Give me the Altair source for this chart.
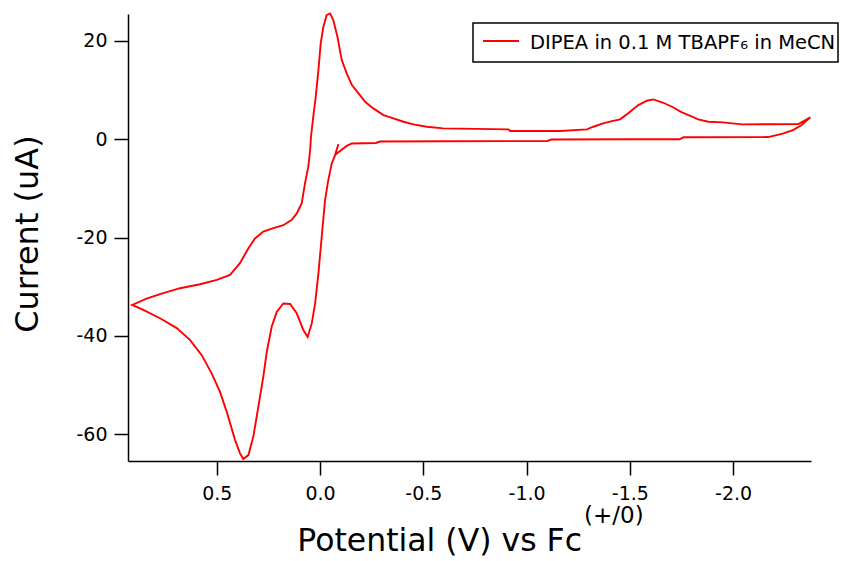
import altair as alt
import pandas as pd

# Cyclic voltammogram trace (potential in V vs Fc+/0, current in uA), in scan order
potential = [
    -0.089, -0.073, -0.129, -0.154, -0.270, -0.290, -0.600, -1.100, -1.120, -1.500, -1.740, -1.760,
    -2.170, -2.240, -2.290, -2.330, -2.374,
    -2.316, -2.043, -1.951, -1.880, -1.831, -1.801, -1.752, -1.704, -1.662, -1.613, -1.583,
    -1.541, -1.492, -1.453, -1.413, -1.371, -1.323, -1.292, -1.163, -0.921, -0.912, -0.596,
    -0.517, -0.452, -0.404, -0.355, -0.307, -0.258, -0.218, -0.186, -0.154, -0.129, -0.105,
    -0.084, -0.064, -0.048, -0.032, -0.016, -0.003, 0.008, 0.021, 0.032, 0.044, 0.048,
    0.057, 0.073, 0.089, 0.113, 0.137, 0.178, 0.226, 0.275, 0.315, 0.347, 0.388, 0.436,
    0.500, 0.581, 0.678, 0.775, 0.840, 0.910,
    0.856, 0.775, 0.694, 0.630, 0.573, 0.525, 0.485, 0.452, 0.412, 0.388, 0.372, 0.347,
    0.323, 0.299, 0.275, 0.258, 0.234, 0.210, 0.178, 0.145, 0.113, 0.081, 0.060, 0.040,
    0.024, 0.008, -0.008, -0.024, -0.040, -0.057, -0.073,
]
current = [
    -1.0, -3.2, -1.4, -0.9, -0.8, -0.5, -0.45, -0.4, -0.1, -0.05, -0.05, 0.35,
    0.4, 1.1, 1.8, 2.8, 4.4,
    3.05, 2.98, 3.39, 3.51, 4.00, 4.53, 5.42, 6.56, 7.37, 8.06, 7.78,
    6.90, 5.22, 4.00, 3.65, 3.19, 2.50, 1.97, 1.62, 1.62, 1.97, 2.17,
    2.50, 2.98, 3.51, 4.20, 4.87, 6.23, 7.57, 9.28, 10.96, 13.34, 16.04,
    20.77, 24.16, 25.52, 25.18, 22.80, 19.43, 14.01, 8.59, 4.87, 0.47, -2.23,
    -5.62, -9.0, -13.1, -15.1, -16.4, -17.5, -18.1, -18.8, -20.2, -22.2, -25.2, -27.6,
    -28.6, -29.5, -30.3, -31.5, -32.4, -33.7,
    -34.7, -36.4, -38.4, -40.8, -43.9, -47.6, -51.3, -55.4, -61.1, -63.8, -65.0, -64.2,
    -60.4, -54.4, -48.3, -43.2, -38.1, -35.1, -33.4, -33.5, -35.4, -38.8, -40.2, -37.4,
    -33.4, -27.3, -19.8, -12.4, -8.3, -4.9, -3.25,
]
x_ticks = [0.5, 0.0, -0.5, -1.0, -1.5, -2.0]
y_ticks = [20, 0, -20, -40, -60]
series_label = ["DIPEA in 0.1 M TBAPF\u2086 in MeCN"]
x_title = ["Potential (V) vs Fc"]
x_title_sup = ["(+/0)"]
y_title = ["Current (uA)"]

df = pd.DataFrame({"E": potential, "I": current, "order": list(range(len(potential)))})

FONT = "DejaVu Sans"
W, H = 683, 447

line = alt.Chart(df).mark_line(color="#ff0000", strokeWidth=1.9, clip=False).encode(
    x=alt.X("E:Q",
            scale=alt.Scale(domain=[-2.377, 0.93], reverse=True, nice=False, zero=False),
            axis=alt.Axis(values=x_ticks, title=None, grid=False,
                          labelExpr="replace(format(datum.value, '.1f'), '\u2212', '-')",
                          tickSize=14, tickWidth=1.5, tickColor="black",
                          domainColor="black", domainWidth=1.5,
                          labelFont=FONT, labelFontSize=19, labelColor="black",
                          labelPadding=9)),
    y=alt.Y("I:Q",
            scale=alt.Scale(domain=[-65.4, 25.4], nice=False, zero=False),
            axis=alt.Axis(values=y_ticks, title=None, grid=False,
                          labelExpr="replace(format(datum.value, 'd'), '\u2212', '-')",
                          tickSize=14, tickWidth=1.5, tickColor="black",
                          domainColor="black", domainWidth=1.5,
                          labelFont=FONT, labelFontSize=19, labelColor="black",
                          labelPadding=7)),
    order="order:Q",
)

# Legend box
leg_df = pd.DataFrame({"label": series_label})
leg_box = alt.Chart(leg_df).mark_rect(fill="white", stroke="black", strokeWidth=1.5).encode(
    x=alt.value(345), x2=alt.value(710), y=alt.value(9), y2=alt.value(48))
leg_line = alt.Chart(leg_df).mark_rule(color="#ff0000", strokeWidth=1.8).encode(
    x=alt.value(355), x2=alt.value(391), y=alt.value(27))
leg_text = alt.Chart(leg_df).mark_text(align="left", baseline="alphabetic", font=FONT,
                                       fontSize=19.5, color="black").encode(
    x=alt.value(402), y=alt.value(35), text="label:N")

# Axis titles
xt = alt.Chart(pd.DataFrame({"t": x_title})).mark_text(
    align="right", baseline="alphabetic", font=FONT, fontSize=31.5, color="black").encode(
    x=alt.value(454), y=alt.value(537), text="t:N")
xts = alt.Chart(pd.DataFrame({"t": x_title_sup})).mark_text(
    align="left", baseline="alphabetic", font=FONT, fontSize=23, color="black").encode(
    x=alt.value(456), y=alt.value(509), text="t:N")
yt = alt.Chart(pd.DataFrame({"t": y_title})).mark_text(
    align="center", baseline="middle", font=FONT, fontSize=32, color="black", angle=270).encode(
    x=alt.value(-100), y=alt.value(220), text="t:N")

chart = alt.layer(line, leg_box, leg_line, leg_text, xt, xts, yt).properties(
    width=W, height=H,
    autosize=alt.AutoSizeParams(type="none"),
    padding={"left": 128, "top": 14, "right": 30, "bottom": 100},
    background="white",
).configure_view(stroke=None)

chart.save("out.html", embed_options={"renderer": "svg", "actions": False})
